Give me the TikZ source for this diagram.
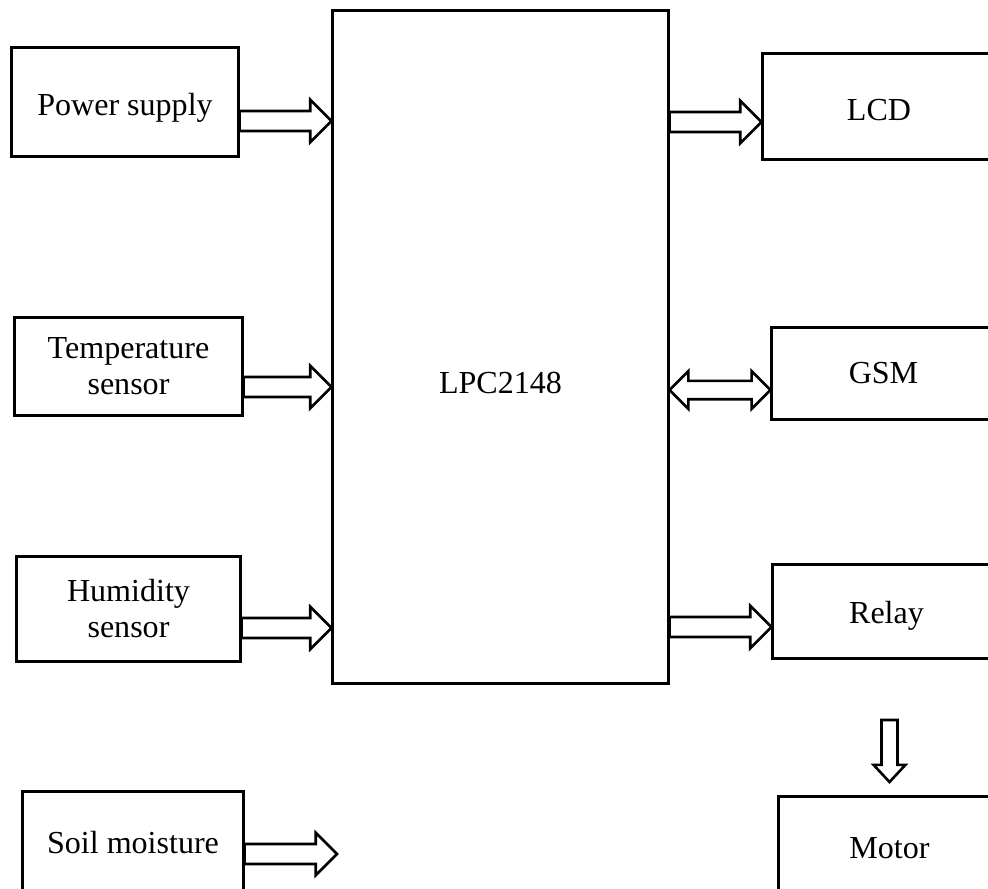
\documentclass[tikz,border=0pt]{standalone}
\usepackage{fontspec}
\setmainfont{Liberation Serif}
\usetikzlibrary{calc,positioning}
\tikzset{%
	block/.style = {draw, rectangle, line width=0.075cm, inner sep=0pt, align=center, font=\fontsize{22.8}{25.6}\selectfont}, % Box
	txt/.style   = {inner sep=0pt, font=\fontsize{22.8}{25.6}\selectfont}, % Label
	fat/.style   = {draw, line width=0.065cm, fill=white, line join=miter}, % Hollow arrow
}
% hollow arrows, tail #1, tip #2
\newcommand{\fatright}[2]{%
	\draw[fat] let \p1=(#1), \p2=(#2) in
	(\x1,\y1+0.25cm) -- (\x2-0.53cm,\y1+0.25cm) -- (\x2-0.53cm,\y1+0.53cm) -- (\x2,\y1)
	-- (\x2-0.53cm,\y1-0.53cm) -- (\x2-0.53cm,\y1-0.25cm) -- (\x1,\y1-0.25cm) -- cycle;}
\newcommand{\fatboth}[2]{%
	\draw[fat] let \p1=(#1), \p2=(#2) in
	(\x1,\y1) -- (\x1+0.47cm,\y1+0.47cm) -- (\x1+0.47cm,\y1+0.23cm) -- (\x2-0.47cm,\y1+0.23cm)
	-- (\x2-0.47cm,\y1+0.47cm) -- (\x2,\y1) -- (\x2-0.47cm,\y1-0.47cm) -- (\x2-0.47cm,\y1-0.23cm)
	-- (\x1+0.47cm,\y1-0.23cm) -- (\x1+0.47cm,\y1-0.47cm) -- cycle;}
\newcommand{\fatdown}[2]{%
	\draw[fat] let \p1=(#1), \p2=(#2) in
	(\x2-0.2cm,\y1) -- (\x2+0.2cm,\y1) -- (\x2+0.2cm,\y2+0.43cm) -- (\x2+0.4cm,\y2+0.43cm)
	-- (\x2,\y2) -- (\x2-0.4cm,\y2+0.43cm) -- (\x2-0.2cm,\y2+0.43cm) -- cycle;}

\begin{document}
\begin{tikzpicture}[x=0.025cm, y=-0.025cm]
	\useasboundingbox (0,0) rectangle (988,889);
	% controller
	\node[block, minimum width=8.375cm, minimum height=16.8cm] (lpc) at (500.5,347) {};
	\node[txt] (lpctxt) at (500.5,383) {LPC2148};
	% inputs
	\node[block, minimum width=5.65cm, minimum height=2.7cm, text height=0.83cm] (ps) at (125,102) {Power supply};
	\node[block, minimum width=5.675cm, minimum height=2.425cm] (temp) at (128.5,366.5) {Temperature\\sensor};
	\node[block, minimum width=5.575cm, minimum height=2.6cm] (hum) at (128.5,609) {Humidity\\sensor};
	\node[block, minimum width=5.5cm, minimum height=2.55cm] (soil) at (133,843) {Soil moisture};
	% outputs
	\node[block, minimum width=5.8cm, minimum height=2.625cm, text height=0.72cm] (lcd) at (879,106.5) {LCD};
	\node[block, minimum width=5.575cm, minimum height=2.275cm] (gsm) at (883.5,373.5) {GSM};
	\node[block, minimum width=5.675cm, minimum height=2.325cm, text height=0.75cm] (relay) at (886.5,611.5) {Relay};
	\node[block, minimum width=5.525cm, minimum height=2.55cm] (motor) at (889.5,848) {Motor};
	% arrow rows
	\coordinate (in1) at (0,121);
	\coordinate (in2) at (0,387);
	\coordinate (in3) at (0,628);
	\coordinate (in4) at (0,854);
	\coordinate (out1) at (0,122);
	\coordinate (out2) at (0,390);
	\coordinate (out3) at (0,627);
	\coordinate (soilend) at (337,854);
	\fatright{ps.east |- in1}{lpc.west |- in1};
	\fatright{temp.east |- in2}{lpc.west |- in2};
	\fatright{hum.east |- in3}{lpc.west |- in3};
	\fatright{soil.east |- in4}{soilend};
	\fatright{lpc.east |- out1}{lcd.west |- out1};
	\fatboth{lpc.east |- out2}{gsm.west |- out2};
	\fatright{lpc.east |- out3}{relay.west |- out3};
	\fatdown{relay.south |- 0,720}{motor.north |- 0,782};
\end{tikzpicture}
\end{document}
